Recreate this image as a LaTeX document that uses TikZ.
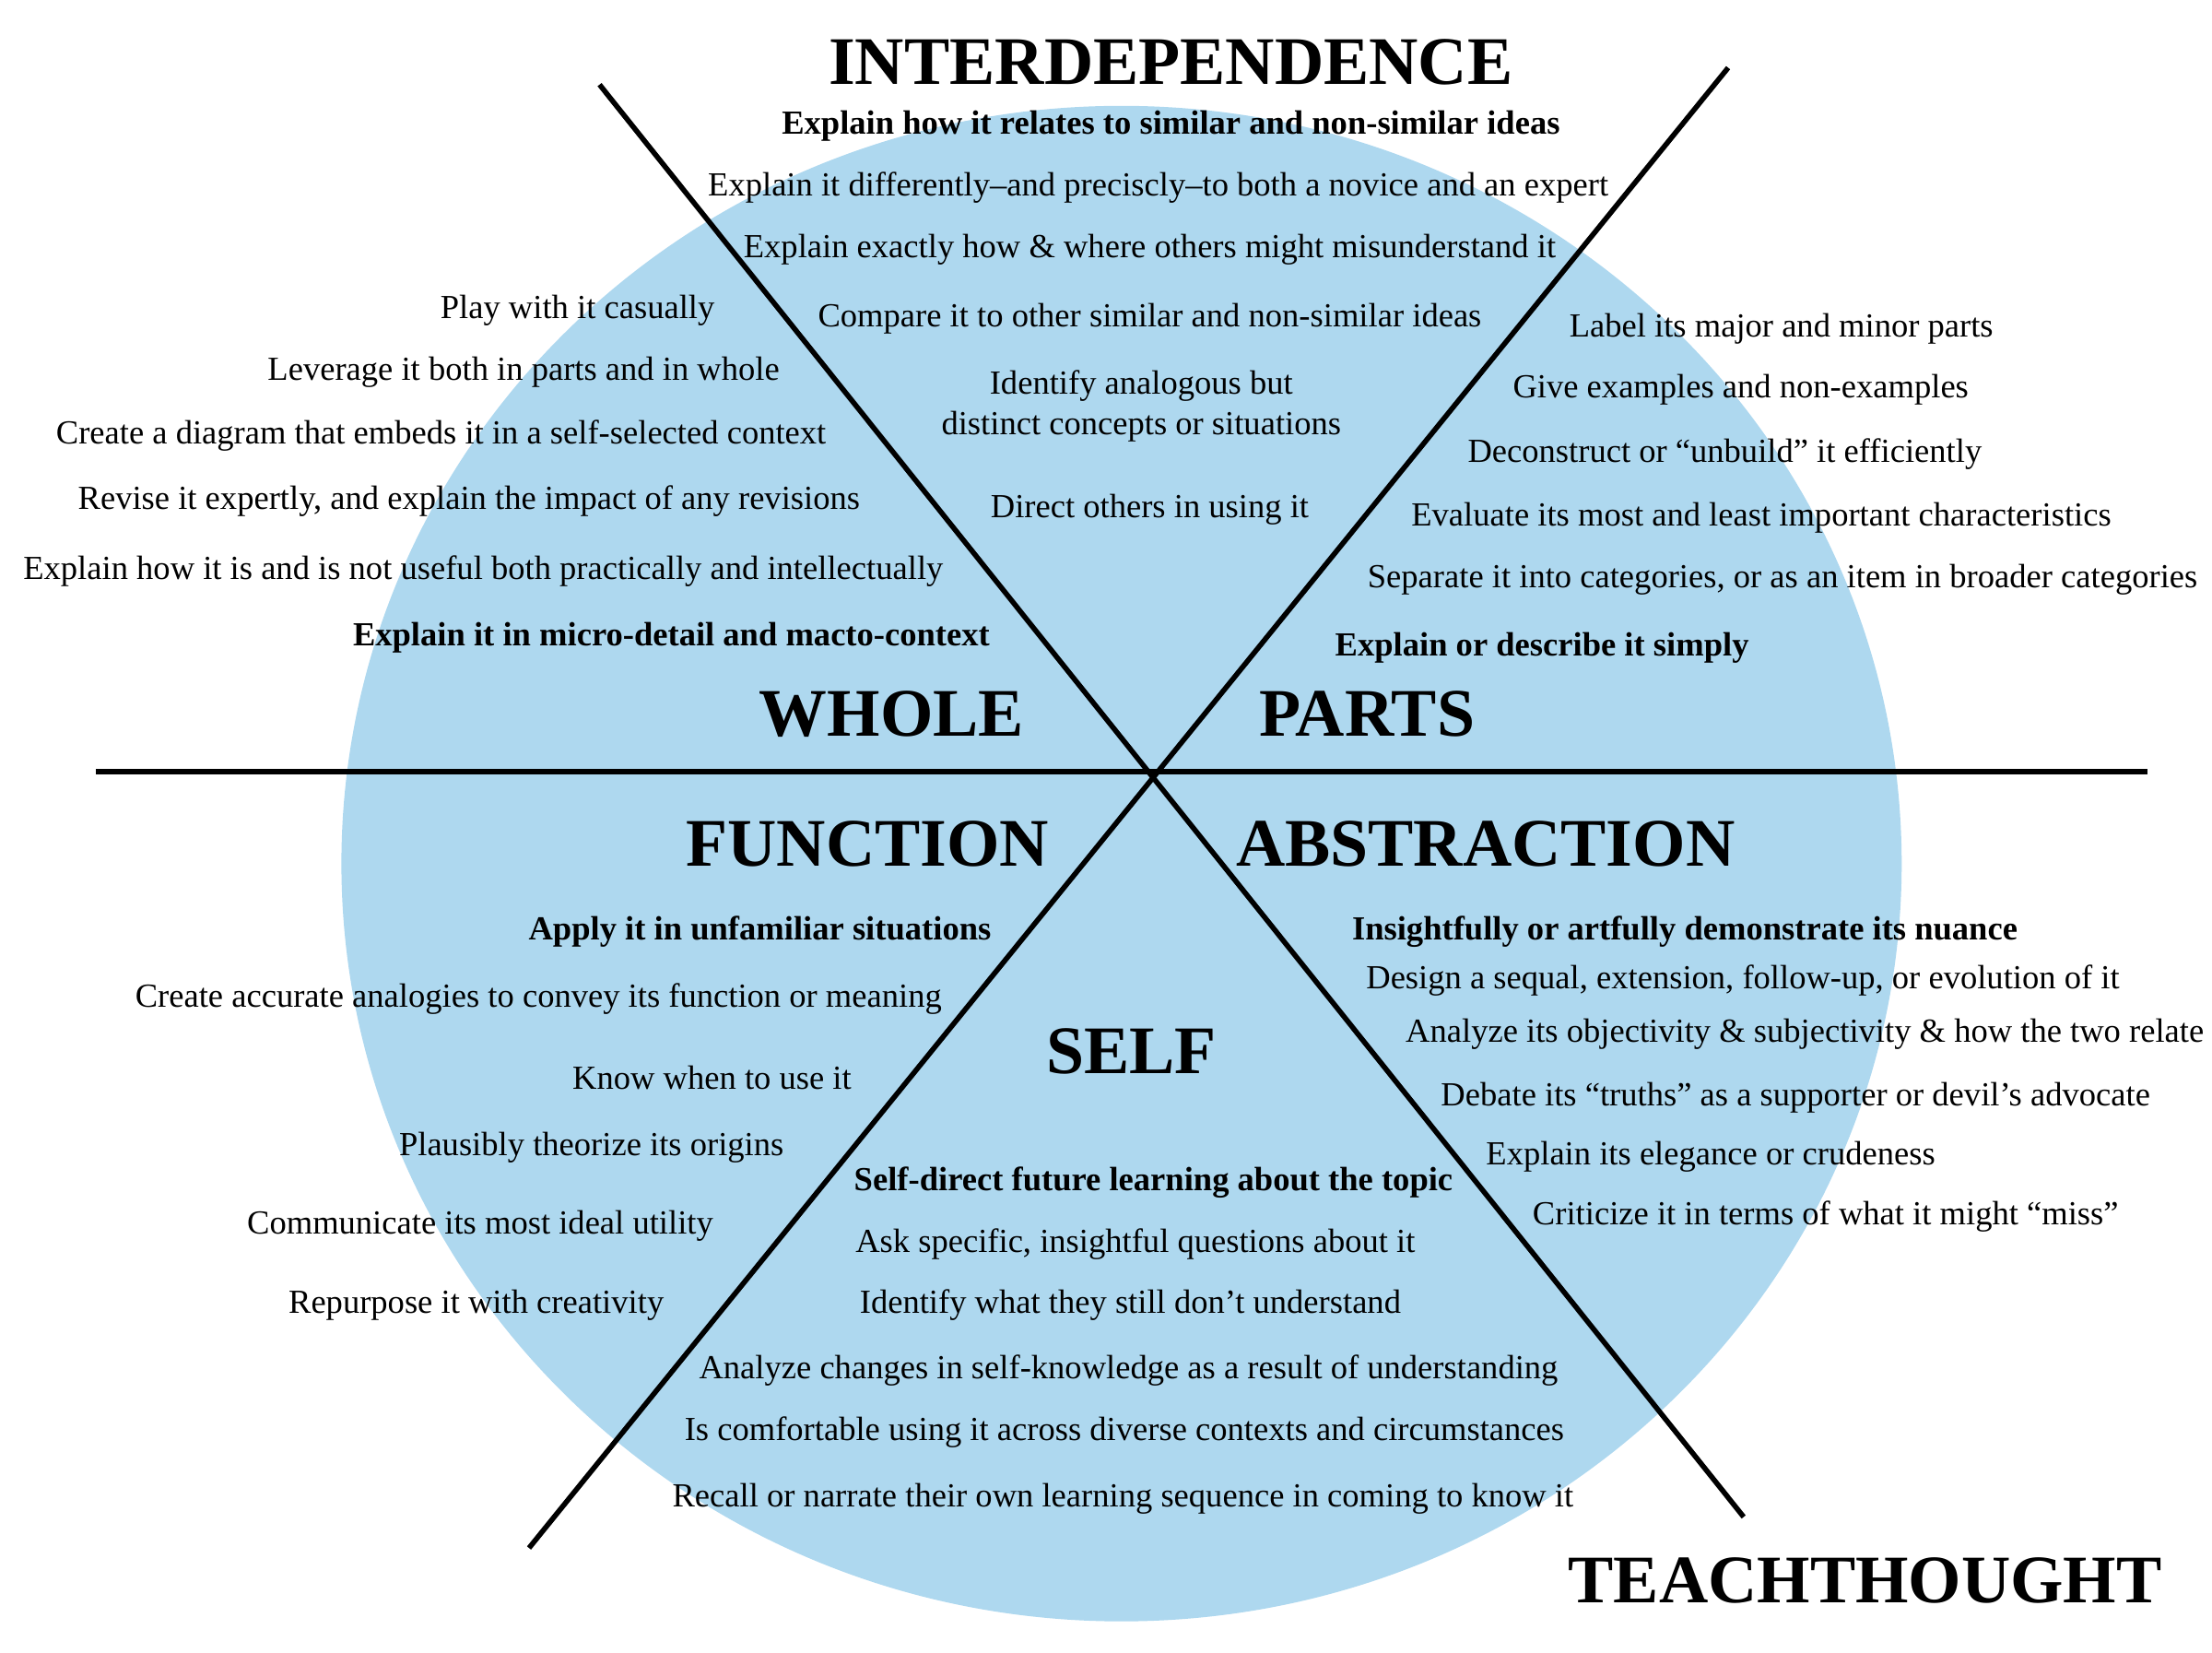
\documentclass[tikz,border=0pt]{standalone}
\usepackage{fontspec}
\setmainfont{Liberation Serif}
\usetikzlibrary{positioning}
\definecolor{wheelblue}{HTML}{AED8EF}
\tikzset{
  txt/.style={inner sep=0pt,font=\fontsize{10.4}{12.5}\selectfont,align=center},
  btxt/.style={txt,font=\fontsize{10.4}{12.5}\selectfont\bfseries},
  head/.style={inner sep=0pt,font=\fontsize{21}{24}\selectfont\bfseries},
  axis/.style={line width=1.6pt,black}
}
\begin{document}
\begin{tikzpicture}[x=0.01531cm,y=-0.01531cm]
	\useasboundingbox (0,0) rectangle (1568,1171);
	\fill[wheelblue] (795,612) ellipse [x radius=553,y radius=537];
	% axes
	\coordinate (hl) at (68,547);
	\coordinate (hr) at (1522,547);
	\coordinate (d1a) at (425,60);
	\coordinate (d1b) at (1236,1075);
	\coordinate (d2a) at (1225,48);
	\coordinate (d2b) at (375,1097);
	\draw[axis] (hl) -- (hr);
	\draw[axis] (d1a) -- (d1b);
	\draw[axis] (d2a) -- (d2b);
	% headings
	\node[head] (interdep) at (830,44) {INTERDEPENDENCE};
	\node[head] (whole) at (632,506) {WHOLE};
	\node[head] (parts) at (969,506) {PARTS};
	\node[head] (function) at (615,598) {FUNCTION};
	\node[head] (abstraction) at (1053,598) {ABSTRACTION};
	\node[head] (self) at (802,745) {SELF};
	\node[head] (teach) at (1322,1120) {TEACHTHOUGHT};
	% interdependence
	\node[btxt] (i1) at (830,89) {Explain how it relates to similar and non-similar ideas};
	\node[txt] (i2) at (821,133) {Explain it differently--and preciscly--to both a novice and an expert};
	\node[txt] (i3) at (815,177) {Explain exactly how \& where others might misunderstand it};
	\node[txt] (i4) at (815,226) {Compare it to other similar and non-similar ideas};
	\node[txt] (i5) at (809,288) {Identify analogous but\\distinct concepts or situations};
	\node[txt] (i6) at (815,361) {Direct others in using it};
	% whole
	\node[txt,anchor=east] (w1) at (507,220) {Play with it casually};
	\node[txt,anchor=east] (w2) at (553,264) {Leverage it both in parts and in whole};
	\node[txt,anchor=east] (w3) at (586,309) {Create a diagram that embeds it in a self-selected context};
	\node[txt,anchor=east] (w4) at (610,355) {Revise it expertly, and explain the impact of any revisions};
	\node[txt,anchor=east] (w5) at (669,405) {Explain how it is and is not useful both practically and intellectually};
	\node[btxt,anchor=east] (w6) at (702,452) {Explain it in micro-detail and macto-context};
	% parts
	\node[txt,anchor=west] (p1) at (1112,233) {Label its major and minor parts};
	\node[txt,anchor=west] (p2) at (1072,276) {Give examples and non-examples};
	\node[txt,anchor=west] (p3) at (1040,322) {Deconstruct or “unbuild” it efficiently};
	\node[txt,anchor=west] (p4) at (1000,367) {Evaluate its most and least important characteristics};
	\node[txt,anchor=west] (p5) at (969,411) {Separate it into categories, or as an item in broader categories};
	\node[btxt,anchor=west] (p6) at (946,459) {Explain or describe it simply};
	% function
	\node[btxt,anchor=east] (f1) at (703,660) {Apply it in unfamiliar situations};
	\node[txt,anchor=east] (f2) at (668,708) {Create accurate analogies to convey its function or meaning};
	\node[txt,anchor=east] (f3) at (604,764) {Know when to use it};
	\node[txt,anchor=east] (f4) at (556,813) {Plausibly theorize its origins};
	\node[txt,anchor=east] (f5) at (506,869) {Communicate its most ideal utility};
	\node[txt,anchor=east] (f6) at (471,925) {Repurpose it with creativity};
	% abstraction
	\node[btxt,anchor=west] (a1) at (958,660) {Insightfully or artfully demonstrate its nuance};
	\node[txt,anchor=west] (a2) at (968,695) {Design a sequal, extension, follow-up, or evolution of it};
	\node[txt,anchor=west] (a3) at (996,733) {Analyze its objectivity \& subjectivity \& how the two relate};
	\node[txt,anchor=west] (a4) at (1021,778) {Debate its “truths” as a supporter or devil’s advocate};
	\node[txt,anchor=west] (a5) at (1053,820) {Explain its elegance or crudeness};
	\node[txt,anchor=west] (a6) at (1086,862) {Criticize it in terms of what it might “miss”};
	% self
	\node[btxt,anchor=west] (s1) at (605,838) {Self-direct future learning about the topic};
	\node[txt,anchor=west] (s2) at (606,882) {Ask specific, insightful questions about it};
	\node[txt,anchor=west] (s3) at (609,925) {Identify what they still don’t understand};
	\node[txt] (s4) at (800,971) {Analyze changes in self-knowledge as a result of understanding};
	\node[txt] (s5) at (797,1015) {Is comfortable using it across diverse contexts and circumstances};
	\node[txt] (s6) at (796,1062) {Recall or narrate their own learning sequence in coming to know it};
\end{tikzpicture}
\end{document}
